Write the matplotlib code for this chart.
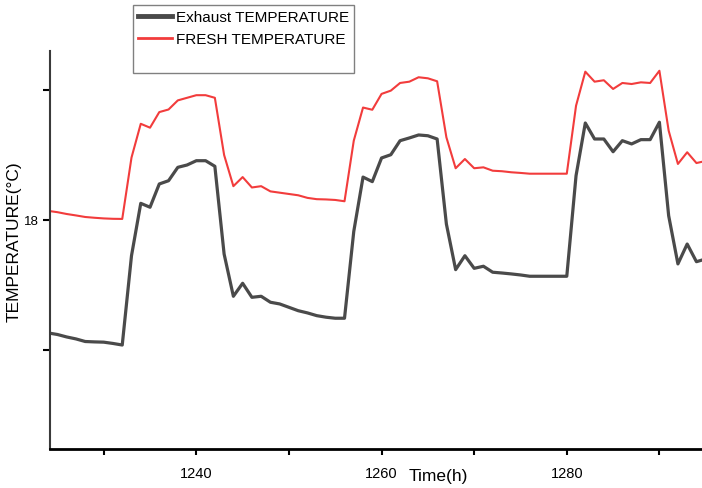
import numpy as np
import matplotlib
matplotlib.use("Agg")
import matplotlib.pyplot as plt
from matplotlib.lines import Line2D

plt.rcParams["font.family"] = ["Liberation Sans", "DejaVu Sans"]

# hourly readings
hours = np.arange(1224, 1296)

exhaust_temp = [
    17.131, 17.119, 17.100, 17.085, 17.065, 17.062, 17.060, 17.050, 17.038,
    17.725, 18.128, 18.098, 18.277, 18.302, 18.405, 18.423, 18.456, 18.456,
    18.413, 17.738, 17.413, 17.513, 17.405, 17.413, 17.367, 17.354, 17.328,
    17.302, 17.285, 17.264, 17.252, 17.244, 17.244, 17.912, 18.330, 18.295,
    18.477, 18.502, 18.610, 18.631, 18.654, 18.648, 18.623, 17.969, 17.618,
    17.725, 17.628, 17.644, 17.598, 17.592, 17.585, 17.577, 17.567, 17.567,
    17.567, 17.567, 17.567, 18.341, 18.746, 18.623, 18.623, 18.525, 18.610,
    18.585, 18.618, 18.618, 18.752, 18.033, 17.662, 17.815, 17.679, 17.700,
]

fresh_temp = [
    18.070, 18.060, 18.046, 18.035, 18.023, 18.017, 18.012, 18.009, 18.008,
    18.480, 18.740, 18.710, 18.830, 18.850, 18.920, 18.940, 18.960, 18.960,
    18.940, 18.500, 18.260, 18.330, 18.250, 18.260, 18.220, 18.210, 18.200,
    18.190, 18.170, 18.160, 18.158, 18.154, 18.144, 18.610, 18.865, 18.848,
    18.970, 18.995, 19.054, 19.064, 19.098, 19.090, 19.067, 18.636, 18.398,
    18.469, 18.398, 18.405, 18.379, 18.375, 18.367, 18.362, 18.356, 18.356,
    18.356, 18.356, 18.356, 18.879, 19.141, 19.064, 19.075, 19.008, 19.054,
    19.046, 19.059, 19.054, 19.148, 18.687, 18.431, 18.521, 18.438, 18.454,
]

x_ticks = [1230, 1240, 1250, 1260, 1270, 1280, 1290]
x_labels = ["", "1240", "", "1260", "", "1280", ""]
y_ticks = [17, 18, 19]
y_labels = ["", "18", ""]

fig = plt.figure(figsize=(7.02, 4.89), dpi=100)
ax = fig.add_axes([50 / 702, 39 / 489, 652 / 702, 398 / 489])

ax.plot(hours, exhaust_temp, color="#4a4a4a", linewidth=2.3)
ax.plot(hours, fresh_temp, color="#f23c3c", linewidth=1.5)

ax.set_xlim(1224.2, 1294.6)
ax.set_ylim(16.238, 19.3)

ax.set_xticks(x_ticks)
ax.set_xticklabels(x_labels)
ax.set_yticks(y_ticks)
ax.set_yticklabels(y_labels)
ax.tick_params(axis="x", length=4, width=1.5, pad=8, labelsize=10.5)
ax.tick_params(axis="y", length=5, width=1.5, pad=3, labelsize=9.5)

for side in ["top", "right"]:
    ax.spines[side].set_visible(False)
ax.spines["left"].set_color("#3a3a3a")
ax.spines["left"].set_linewidth(1.5)
ax.spines["bottom"].set_color("black")
ax.spines["bottom"].set_linewidth(2)

# axis titles
fig.text(438 / 702, 1 - 477 / 489, "Time(h)", ha="center", va="center", fontsize=12.5)
fig.text(14 / 702, 1 - 242 / 489, "TEMPERATURE(°C)", ha="center", va="center",
         rotation=90, fontsize=12.5)

# legend with an empty third row
handles = [
    Line2D([], [], color="#4a4a4a", linewidth=3.5),
    Line2D([], [], color="#f23c3c", linewidth=2),
    Line2D([], [], color="none"),
]
labels = ["Exhaust TEMPERATURE", "FRESH TEMPERATURE", ""]
leg = fig.legend(handles, labels, loc="upper left",
                 bbox_to_anchor=(133 / 702, 1 - 6 / 489),
                 fontsize=11, frameon=True, fancybox=False,
                 edgecolor="#808080", framealpha=1, borderpad=0.35,
                 labelspacing=0.5, handlelength=2.2, handletextpad=0.25,
                 borderaxespad=0)
leg.get_frame().set_linewidth(1)

plt.savefig("out.png", dpi=100)
